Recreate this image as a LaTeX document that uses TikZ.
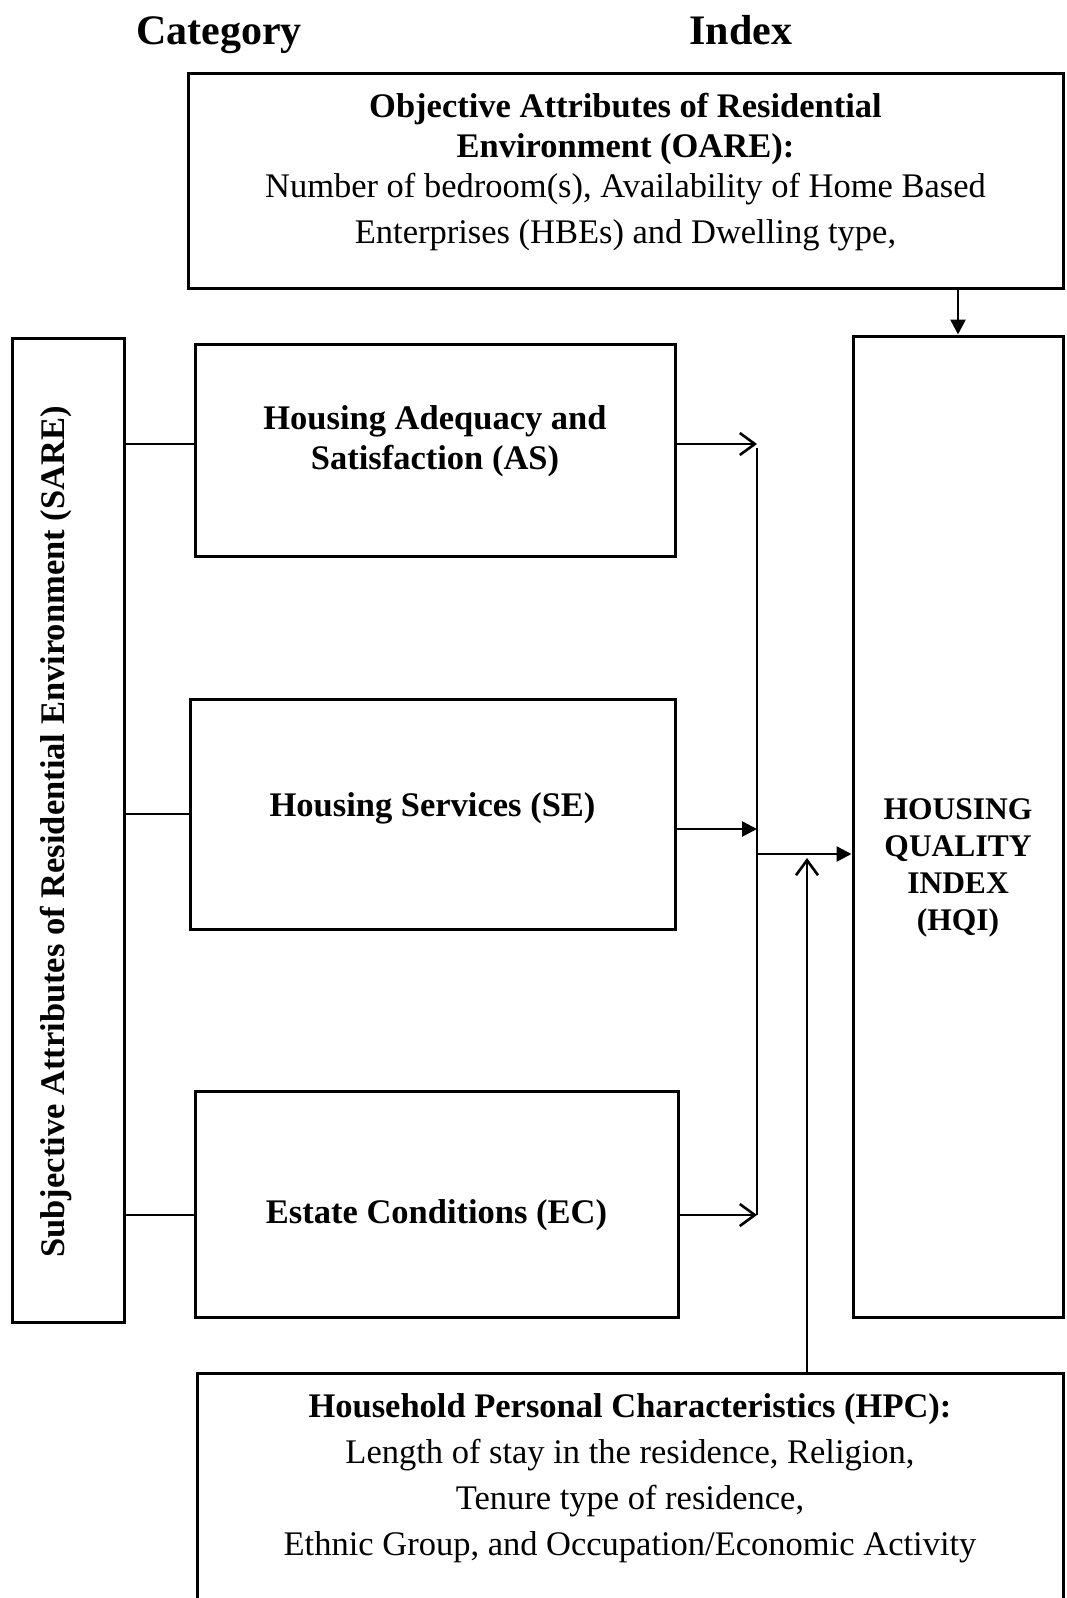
\documentclass[tikz,border=0pt]{standalone}
\usepackage{fontspec}
\setmainfont{Liberation Serif}
\usetikzlibrary{arrows.meta}

\begin{document}
\begin{tikzpicture}[x=1pt,y=-1pt,
        box/.style={draw,line width=3pt,inner sep=0pt},
        txt/.style={align=center,font=\fontsize{34.5}{40}\selectfont},
        btxt/.style={align=center,font=\fontsize{34.5}{40}\selectfont\bfseries},
        head/.style={anchor=base,font=\fontsize{42}{48}\selectfont\bfseries},
        openarr/.style={line width=2.6pt,-{Straight Barb[length=15pt,width=22pt]}},
        fillarr/.style={line width=2.6pt,-{Triangle[length=15pt,width=15pt]}}]
    \useasboundingbox (0,0) rectangle (1066,1598);
        % Titles
            \node[head] (cat) at (219,44) {Category};
            \node[head] (idx) at (741,44) {Index};
            % Boxes
            \node[box,minimum width=875pt,minimum height=215pt] (oare) at (625.5,180.5) {};
            \node[box,minimum width=112pt,minimum height=984pt] (sare) at (68,830) {};
            \node[box,minimum width=480pt,minimum height=212pt] (as) at (435,450) {};
            \node[box,minimum width=485pt,minimum height=230pt] (se) at (432.5,814) {};
            \node[box,minimum width=483pt,minimum height=226pt] (ec) at (436.5,1204) {};
            \node[box,minimum width=210pt,minimum height=981pt] (hqi) at (958,826.5) {};
            \node[box,minimum width=866pt,minimum height=250pt] (hpc) at (630,1498) {};
            % Texts in the boxes
            \node[txt] (oaretext) at (625.5,172.5)
                {\textbf{Objective Attributes of Residential}\\
                 \textbf{Environment (OARE):}\\
                 Number of bedroom(s), Availability of Home Based\\[6pt]
                 Enterprises (HBEs) and Dwelling type,};
            \node[btxt,rotate=90] (saretext) at (56,832)
                {Subjective Attributes of Residential Environment (SARE)};
            \node[btxt] (astext) at (435,441) {Housing Adequacy and\\Satisfaction (AS)};
            \node[btxt] (setext) at (432.5,808) {Housing Services (SE)};
            \node[btxt] (ectext) at (436.5,1215) {Estate Conditions (EC)};
            \node[align=center,font=\fontsize{31.5}{37}\selectfont\bfseries] (hqitext) at (958,868)
                {HOUSING\\QUALITY\\INDEX\\(HQI)};
            \node[align=center,font=\fontsize{34.5}{46}\selectfont] (hpctext) at (630,1478)
                {\textbf{Household Personal Characteristics (HPC):}\\
                 Length of stay in the residence, Religion,\\
                 Tenure type of residence,\\
                 Ethnic Group, and Occupation/Economic Activity};

            % Joints on the collecting line
            \coordinate (jas) at (757,444);
            \coordinate (jse) at (757,829);
            \coordinate (jec) at (757,1215);
            \coordinate (jhqi) at (757,854);
            \coordinate (hpcin) at (807,858);

            % Conectors
            \draw[line width=2.4pt] (sare.east |- jas) -- (as.west |- jas);
            \draw[line width=2.4pt] (sare.east |- se.west) -- (se.west);
            \draw[line width=2.4pt] (sare.east |- jec) -- (ec.west |- jec);
            \draw[openarr] (as.east |- jas) -- (jas);
            \draw[fillarr] (se.east |- jse) -- (jse);
            \draw[openarr] (ec.east |- jec) -- (jec);
            \draw[line width=2.2pt] ([yshift=-4pt]jas) -- (jec);
            \draw[fillarr] (jhqi) -- (hqi.west |- jhqi);
            \draw[openarr] (hpc.north -| hpcin) -- (hpcin);
            \draw[fillarr] (oare.south -| hqi.north) -- (hqi.north);
        \end{tikzpicture}
\end{document}
